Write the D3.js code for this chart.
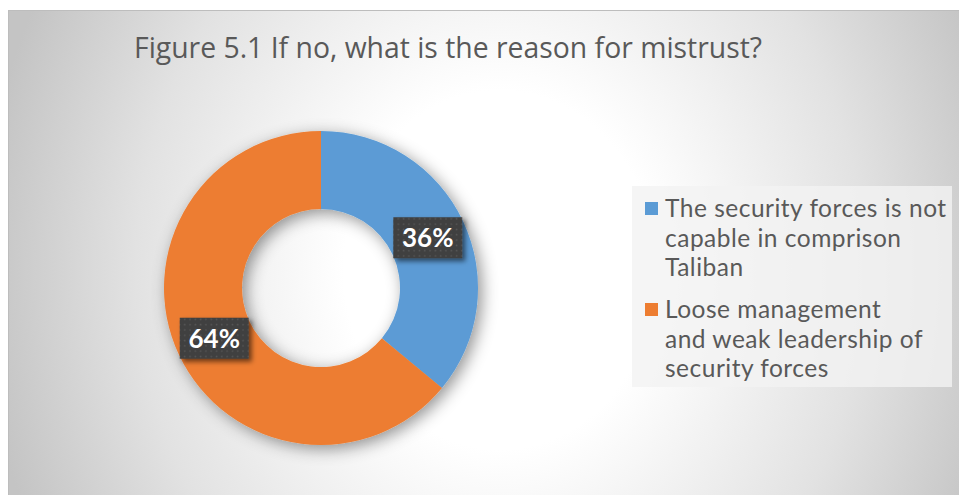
<!DOCTYPE html>
<html>
<head>
<meta charset="utf-8">
<script src="https://cdn.jsdelivr.net/npm/d3@7"></script>
<style>
  html, body { margin: 0; padding: 0; background: #ffffff; }
  svg { display: block; }
</style>
</head>
<body>
<div id="chart"></div>
<script>
// Survey answers: reasons given for mistrust of the security forces
const title = "Figure 5.1 If no, what is the reason for mistrust?";
const categories = [
  "The security forces is not capable in comprison Taliban",
  "Loose management and weak leadership of security forces"
];
const legendLines = [
  ["The security forces is not", "capable in comprison", "Taliban"],
  ["Loose management", "and weak leadership of", "security forces"]
];
const values = [36, 64];
const colors = ["#5B9BD5", "#ED7D31"];

const W = 959, H = 495;
const svg = d3.select("#chart").append("svg")
  .attr("width", W).attr("height", H);

const defs = svg.append("defs");

// chart area background: radial light-grey gradient
const bg = defs.append("radialGradient")
  .attr("id", "bgGrad")
  .attr("gradientUnits", "userSpaceOnUse")
  .attr("cx", 500).attr("cy", 270).attr("r", 520)
  .attr("gradientTransform", "translate(500,270) scale(1,1.15) translate(-500,-270)");
[[0, "#ffffff"], [0.3, "#ffffff"], [0.7, "#e2e2e2"], [1, "#c4c4c4"]].forEach(([o, c]) =>
  bg.append("stop").attr("offset", o).attr("stop-color", c));

// soft shadow under the ring
const ringShadow = defs.append("filter").attr("id", "ringShadow")
  .attr("x", "-30%").attr("y", "-30%").attr("width", "160%").attr("height", "160%");
ringShadow.append("feDropShadow")
  .attr("dx", 4).attr("dy", 4).attr("stdDeviation", 8)
  .attr("flood-color", "#000").attr("flood-opacity", 0.42);

// shadow for the data-label boxes
const boxShadow = defs.append("filter").attr("id", "boxShadow")
  .attr("x", "-30%").attr("y", "-30%").attr("width", "160%").attr("height", "160%");
boxShadow.append("feDropShadow")
  .attr("dx", 3).attr("dy", 3).attr("stdDeviation", 2.5)
  .attr("flood-color", "#000").attr("flood-opacity", 0.55);

// dotted dark fill for the data-label boxes
const dots = defs.append("pattern").attr("id", "dots")
  .attr("patternUnits", "userSpaceOnUse")
  .attr("width", 5.3).attr("height", 5.3);
dots.append("rect").attr("width", 5.3).attr("height", 5.3).attr("fill", "#3f3f3f");
dots.append("rect").attr("x", 1.5).attr("y", 1.5).attr("width", 1.6).attr("height", 1.6).attr("fill", "#575757");

// chart area
svg.append("rect")
  .attr("x", 8.5).attr("y", 10.5)
  .attr("width", W + 10).attr("height", H + 10)
  .attr("fill", "url(#bgGrad)")
  .attr("stroke", "#bdbdbd").attr("stroke-width", 1);

// title
svg.append("text")
  .attr("x", 134).attr("y", 58)
  .attr("font-family", "'Open Sans', 'Liberation Sans', sans-serif")
  .attr("font-size", 29)
  .attr("fill", "#595959")
  .attr("textLength", 628)
  .attr("lengthAdjust", "spacingAndGlyphs")
  .text(title);

// donut
const cx = 321, cy = 288, outerR = 157, innerR = 79;
const pie = d3.pie().sort(null).value(d => d)(values);
const arc = d3.arc().innerRadius(innerR).outerRadius(outerR);

const g = svg.append("g").attr("transform", `translate(${cx},${cy})`);
g.append("g").attr("filter", "url(#ringShadow)")
  .selectAll("path").data(pie).join("path")
  .attr("d", arc)
  .attr("fill", (d, i) => colors[i]);

// data labels at slice centroids
const bw = 69, bh = 41;
const labels = g.selectAll("g.lbl").data(pie).join("g")
  .attr("class", "lbl")
  .attr("transform", d => `translate(${arc.centroid(d)})`);
labels.append("rect")
  .attr("x", -bw / 2).attr("y", -bh / 2)
  .attr("width", bw).attr("height", bh)
  .attr("fill", "url(#dots)")
  .attr("filter", "url(#boxShadow)");
labels.append("text")
  .attr("text-anchor", "middle")
  .attr("dy", "0.36em")
  .attr("font-family", "Lato, 'DejaVu Sans', sans-serif")
  .attr("font-weight", 700)
  .attr("font-size", 26)
  .attr("fill", "#ffffff")
  .text(d => d.data + "%");

// legend
const legend = svg.append("g");
legend.append("rect")
  .attr("x", 632).attr("y", 186)
  .attr("width", 320).attr("height", 201)
  .attr("fill", "#f2f2f2").attr("fill-opacity", 0.8);

const entryY = d3.scalePoint().domain(categories).range([217, 318]);
const lineStep = 29.5;
const entries = legend.selectAll("g.entry").data(categories).join("g")
  .attr("class", "entry")
  .attr("transform", d => `translate(0,${entryY(d)})`);
entries.append("rect")
  .attr("x", 645).attr("y", -15)
  .attr("width", 13).attr("height", 13)
  .attr("fill", (d, i) => colors[i]);
entries.each(function (d, i) {
  d3.select(this).selectAll("text").data(legendLines[i]).join("text")
    .attr("x", 665)
    .attr("y", (t, j) => j * lineStep)
    .attr("font-family", "Lato, 'DejaVu Sans', sans-serif")
    .attr("font-size", 24.5)
    .attr("letter-spacing", 0.5)
    .attr("fill", "#595959")
    .text(t => t);
});
</script>
</body>
</html>
